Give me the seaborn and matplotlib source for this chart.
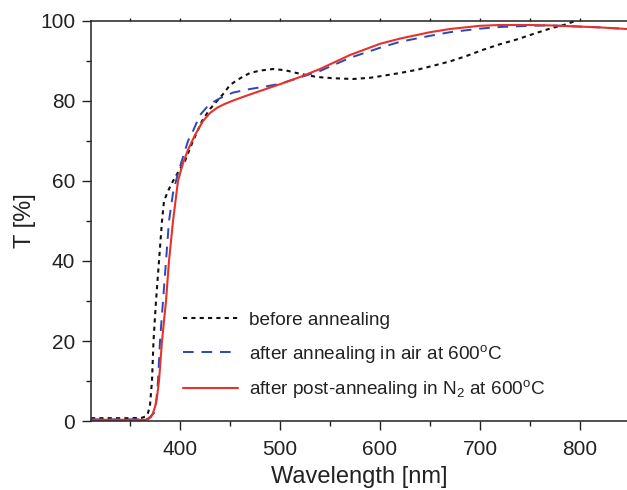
import numpy as np
import pandas as pd
import matplotlib
matplotlib.use("Agg")
import matplotlib.pyplot as plt
import seaborn as sns

# ---- data ----
wl_before = [311, 330, 350, 362, 366, 368, 370, 372, 373.5, 376, 379, 382, 384, 388, 393, 400, 405,
             413, 422, 430, 437, 444, 450, 457, 463, 470, 480, 493, 505, 520, 537, 553, 573, 590,
             603, 620, 637, 653, 670, 687, 703, 720, 737, 755, 770, 785, 793, 800, 820, 847]
t_before = [0.7, 0.7, 0.7, 0.8, 1.2, 2, 4, 10, 20, 30, 40, 50, 55, 57.5, 60, 63, 65,
            70, 75, 78, 80, 82, 84, 85.2, 86.1, 87, 87.6, 88.0, 87.7, 86.8, 86.0, 85.7, 85.5, 85.8,
            86.3, 87.0, 87.8, 88.8, 89.9, 91.3, 92.8, 94.2, 95.4, 96.9, 98.1, 99.1, 99.8, 100.4, 101, 101.5]

wl_air = [311, 330, 350, 365, 368, 370, 372, 374, 376, 378, 380, 383, 386, 389, 393, 398, 403, 408,
          413, 420, 427, 433, 440, 453, 470, 485, 500, 520, 540, 570, 600, 620, 650, 670, 700,
          720, 750, 770, 800, 820, 847]
t_air = [0.4, 0.4, 0.4, 0.4, 0.6, 1.0, 1.5, 2.0, 4, 10, 20, 30, 40, 50, 57, 62, 66, 70,
         72.5, 76.5, 78.5, 79.7, 80.7, 82.1, 83.0, 83.6, 84.3, 85.9, 87.5, 90.8, 93.3, 94.8, 96.3, 97.2, 98.1,
         98.5, 98.8, 98.9, 98.6, 98.4, 98.0]

wl_n2 = [311, 330, 350, 365, 368, 371, 373, 375, 377, 379, 382, 386, 389, 393, 398, 403, 408, 415,
         423, 430, 437, 445, 453, 465, 480, 500, 520, 540, 570, 600, 620, 650, 670, 700, 720, 750,
         770, 800, 820, 847]
t_n2 = [0.3, 0.3, 0.3, 0.3, 0.4, 1.0, 2.0, 3.5, 6, 10, 20, 30, 40, 50, 60, 64.5, 67.8, 71.5,
        75, 77, 78.3, 79.3, 80.1, 81.2, 82.5, 84.2, 86.0, 88.0, 91.5, 94.3, 95.6, 97.2, 98.0, 98.8, 99.0, 99.0,
        98.9, 98.6, 98.4, 98.0]

labels = ["before annealing",
          r"after annealing in air at 600$^{\mathrm{o}}$C",
          r"after post-annealing in N$_{\mathrm{2}}$ at 600$^{\mathrm{o}}$C"]

x_ticks = [400, 500, 600, 700, 800]
y_ticks = [0, 20, 40, 60, 80, 100]

# ---- style ----
sns.set_style("ticks")
plt.rcParams["font.family"] = ["Liberation Sans", "DejaVu Sans"]
plt.rcParams["mathtext.fontset"] = "custom"
plt.rcParams["mathtext.rm"] = "Liberation Sans"
plt.rcParams["mathtext.it"] = "Liberation Sans:italic"
plt.rcParams["mathtext.bf"] = "Liberation Sans:bold"

fig = plt.figure(figsize=(6.27, 4.9), dpi=100)
ax = fig.add_axes([91 / 627, 69 / 490, 536 / 627, 400 / 490])

df_b = pd.DataFrame({"wl": wl_before, "T": t_before})
df_a = pd.DataFrame({"wl": wl_air, "T": t_air})
df_n = pd.DataFrame({"wl": wl_n2, "T": t_n2})

sns.lineplot(data=df_b, x="wl", y="T", ax=ax, color="#111111", lw=1.5,
             linestyle=(0, (2.0, 2.0)), label=labels[0], sort=False)
sns.lineplot(data=df_a, x="wl", y="T", ax=ax, color="#2a48b8", lw=1.4,
             linestyle=(0, (5.5, 4.0)), label=labels[1], sort=False)
sns.lineplot(data=df_n, x="wl", y="T", ax=ax, color="#e8312a", lw=1.5,
             linestyle="-", label=labels[2], sort=False)

ax.set_xlim(311, 847)
ax.set_ylim(0, 100)
ax.set_xticks(x_ticks)
ax.set_yticks(y_ticks)
ax.set_xticks(np.arange(350, 850, 50), minor=True)
ax.set_yticks(np.arange(10, 100, 20), minor=True)

for s in ["left", "bottom", "top"]:
    ax.spines[s].set_linewidth(1.1)
    ax.spines[s].set_color("#222222")
ax.spines["right"].set_visible(False)

ax.tick_params(axis="both", which="major", direction="out", length=6.5, width=1.0,
               labelsize=15, color="#222222", labelcolor="#222222", pad=5)
ax.tick_params(axis="x", which="major", pad=7.5)
ax.tick_params(axis="both", which="minor", direction="out", length=3.5, width=1.0, color="#222222")
ax.tick_params(axis="x", which="both", top=False)

sec = ax.secondary_xaxis("top")
sec.set_xticks(np.arange(350, 850, 50))
sec.tick_params(direction="out", length=2, width=1.0, labeltop=False, color="#222222")
sec.spines["top"].set_visible(False)

ax.set_xlabel("Wavelength [nm]", fontsize=17, color="#222222", labelpad=5)
ax.set_ylabel("T [%]", fontsize=17, color="#222222", labelpad=3)

leg = ax.legend(loc="center left", bbox_to_anchor=((183 - 91) / 536, (421 - 356) / 400),
                frameon=False, fontsize=13.7, handlelength=2.9, handletextpad=0.55,
                labelspacing=0.72, borderpad=0, borderaxespad=0)
for t in leg.get_texts():
    t.set_color("#222222")

fig.savefig("out.png", dpi=100)
